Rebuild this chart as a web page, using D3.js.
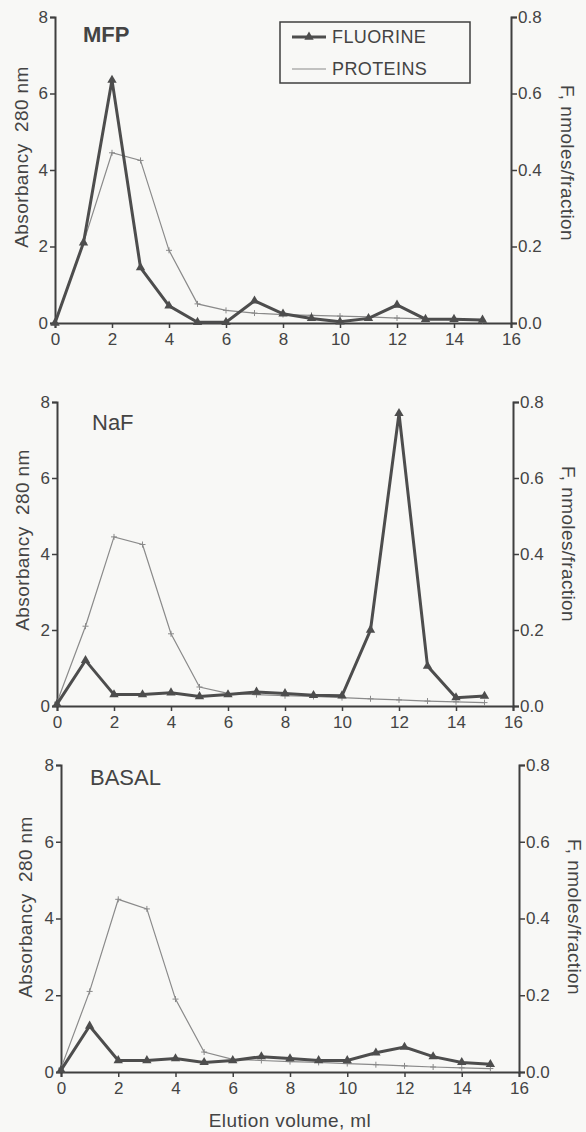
<!DOCTYPE html>
<html>
<head>
<meta charset="utf-8">
<script src="https://cdn.jsdelivr.net/npm/d3@7"></script>
<style>
  body { margin: 0; background: #f8f8f6; }
  svg { display: block; }
  text { font-family: "Liberation Sans", Arial, sans-serif; fill: #444; }
  .tick text { font-size: 17px; }
  .label { font-size: 19px; letter-spacing: 0.4px; white-space: pre; }
</style>
</head>
<body>
<svg id="chart" width="586" height="1132"></svg>
<script>
var width = 586, height = 1132;

// elution volume, ml
var fractions = [0, 1, 2, 3, 4, 5, 6, 7, 8, 9, 10, 11, 12, 13, 14, 15];
var xTicks = [0, 2, 4, 6, 8, 10, 12, 14, 16];
var leftTicks = [0, 2, 4, 6, 8];
var rightTicks = [0, 0.2, 0.4, 0.6, 0.8];
var panelNames = ["MFP", "NaF", "BASAL"];

// proteins, absorbancy 280 nm
var proteinsMFP   = [0, 2.1, 4.45, 4.25, 1.9, 0.5, 0.33, 0.26, 0.22, 0.2, 0.18, 0.16, 0.13, 0.11, 0.09, 0.07];
var proteinsNaF   = [0.1, 2.1, 4.45, 4.25, 1.9, 0.5, 0.33, 0.3, 0.27, 0.25, 0.22, 0.19, 0.16, 0.13, 0.11, 0.09];
var proteinsBASAL = [0.1, 2.1, 4.5, 4.25, 1.9, 0.52, 0.33, 0.3, 0.27, 0.25, 0.22, 0.19, 0.16, 0.13, 0.11, 0.09];

// fluorine, nmoles/fraction
var fluorineMFP   = [0, 0.21, 0.635, 0.145, 0.045, 0.002, 0.002, 0.058, 0.024, 0.012, 0.003, 0.012, 0.047, 0.01, 0.01, 0.008];
var fluorineNaF   = [0.005, 0.12, 0.03, 0.03, 0.035, 0.025, 0.03, 0.037, 0.033, 0.028, 0.027, 0.2, 0.77, 0.105, 0.022, 0.026];
var fluorineBASAL = [0.005, 0.12, 0.03, 0.03, 0.035, 0.025, 0.03, 0.04, 0.035, 0.03, 0.03, 0.05, 0.065, 0.04, 0.025, 0.02];

var proteins = [proteinsMFP, proteinsNaF, proteinsBASAL];
var fluorine = [fluorineMFP, fluorineNaF, fluorineBASAL];

// where each panel sits on the page
var layout = [
  { x0: 55, x1: 511, y0: 323, y1: 17, title: [83, 42, "bold"], yl: [28, 157], yr: [561, 163] },
  { x0: 57, x1: 513, y0: 706, y1: 402, title: [92, 430, "normal"], yl: [29, 540], yr: [562, 544] },
  { x0: 61, x1: 519, y0: 1072, y1: 765, title: [90, 785, "normal"], yl: [32, 907], yr: [568, 917] }
];

var lineDark = "#4d4d4d", lineLight = "#8a8a8a", axisColor = "#3f3f3f";

var svg = d3.select("#chart");
var tri = d3.symbol().type(d3.symbolTriangle).size(38);

panelNames.forEach(function (name, p) {
  var L = layout[p];
  var x = d3.scaleLinear().domain([0, 16]).range([L.x0, L.x1]);
  var yL = d3.scaleLinear().domain([0, 8]).range([L.y0, L.y1]);
  var yR = d3.scaleLinear().domain([0, 0.8]).range([L.y0, L.y1]);

  var g = svg.append("g").attr("class", "panel");

  g.append("g")
    .attr("transform", "translate(0," + L.y0 + ")")
    .call(d3.axisBottom(x).tickValues(xTicks).tickSize(5).tickPadding(5).tickFormat(d3.format("d")));

  g.append("g")
    .attr("transform", "translate(" + L.x0 + ",0)")
    .call(d3.axisLeft(yL).tickValues(leftTicks).tickSize(5).tickPadding(2).tickFormat(d3.format("d")));

  g.append("g")
    .attr("transform", "translate(" + L.x1 + ",0)")
    .call(d3.axisRight(yR).tickValues(rightTicks).tickSize(6).tickPadding(1).tickFormat(d3.format(".1f")));

  g.selectAll(".domain").attr("stroke", axisColor).attr("stroke-width", 2);
  g.selectAll(".tick line").attr("stroke", axisColor).attr("stroke-width", 1.5);

  // proteins
  var lp = d3.line().x(function (d, i) { return x(fractions[i]); }).y(function (d) { return yL(d); });
  g.append("path")
    .datum(proteins[p])
    .attr("d", lp)
    .attr("fill", "none")
    .attr("stroke", lineLight)
    .attr("stroke-width", 1.2);
  g.selectAll(".pmark")
    .data(proteins[p])
    .enter().append("path")
    .attr("class", "pmark")
    .attr("d", function (d, i) {
      var cx = x(fractions[i]), cy = yL(d);
      return "M" + (cx - 3) + "," + cy + "h6M" + cx + "," + (cy - 3) + "v6";
    })
    .attr("stroke", lineLight)
    .attr("stroke-width", 1);

  // fluorine
  var lf = d3.line().x(function (d, i) { return x(fractions[i]); }).y(function (d) { return yR(d); });
  g.append("path")
    .datum(fluorine[p])
    .attr("d", lf)
    .attr("fill", "none")
    .attr("stroke", lineDark)
    .attr("stroke-width", 3)
    .attr("stroke-linejoin", "miter");
  g.selectAll(".fmark")
    .data(fluorine[p])
    .enter().append("path")
    .attr("class", "fmark")
    .attr("d", tri)
    .attr("fill", lineDark)
    .attr("transform", function (d, i) { return "translate(" + x(fractions[i]) + "," + yR(d) + ")"; });

  g.append("text")
    .attr("x", L.title[0])
    .attr("y", L.title[1])
    .style("font-size", "22px")
    .style("font-weight", L.title[2])
    .style("fill", "#444")
    .text(name);

  g.append("text")
    .attr("class", "label")
    .attr("transform", "translate(" + L.yl[0] + "," + L.yl[1] + ") rotate(-90)")
    .attr("text-anchor", "middle")
    .text("Absorbancy  280 nm");

  g.append("text")
    .attr("class", "label")
    .attr("transform", "translate(" + L.yr[0] + "," + L.yr[1] + ") rotate(90)")
    .attr("text-anchor", "middle")
    .text("F, nmoles/fraction");
});

svg.selectAll(".tick text").style("fill", "#444");

svg.append("text")
  .attr("class", "label")
  .attr("x", 290)
  .attr("y", 1127)
  .attr("text-anchor", "middle")
  .text("Elution volume, ml");

// legend
var legend = svg.append("g").attr("class", "legend");
legend.append("rect")
  .attr("x", 280).attr("y", 22).attr("width", 190).attr("height", 61)
  .attr("fill", "none").attr("stroke", axisColor).attr("stroke-width", 1.5);

var legendItems = ["FLUORINE", "PROTEINS"];
legendItems.forEach(function (d, i) {
  var ly = 37 + i * 32;
  legend.append("line")
    .attr("x1", 292).attr("x2", 326).attr("y1", ly).attr("y2", ly)
    .attr("stroke", i === 0 ? lineDark : lineLight)
    .attr("stroke-width", i === 0 ? 3 : 1.2);
  if (i === 0) {
    legend.append("path").attr("d", tri).attr("fill", lineDark)
      .attr("transform", "translate(309," + ly + ")");
  }
  legend.append("text")
    .attr("x", 332).attr("y", ly + 6)
    .style("font-size", "18px")
    .style("letter-spacing", "0.4px")
    .text(d);
});
</script>
</body>
</html>
